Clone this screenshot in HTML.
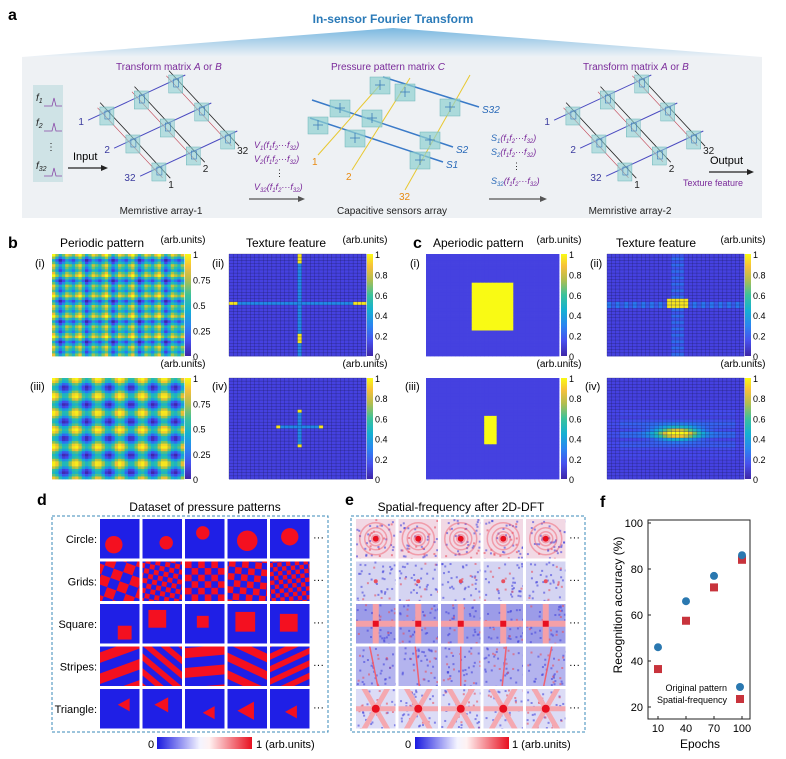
<!DOCTYPE html>
<html><head><meta charset="utf-8"><style>
body{margin:0;background:#fff;}
svg{display:block;font-family:"Liberation Sans",sans-serif;}
</style></head><body>
<svg id="fig" width="786" height="759" viewBox="0 0 786 759" xmlns="http://www.w3.org/2000/svg">
<defs>
<linearGradient id="tri" x1="0" y1="0" x2="0" y2="1"><stop offset="0" stop-color="#7ab8e0"/><stop offset="1" stop-color="#eef2f6"/></linearGradient>
<linearGradient id="bwr" x1="0" y1="0" x2="1" y2="0"><stop offset="0" stop-color="#1a1ae0"/><stop offset="0.45" stop-color="#f4f4ff"/><stop offset="0.55" stop-color="#fff2f2"/><stop offset="1" stop-color="#e81020"/></linearGradient>
<linearGradient id="parula" x1="0" y1="1" x2="0" y2="0">
<stop offset="0" stop-color="#3e26a8"/><stop offset="0.15" stop-color="#4750ee"/><stop offset="0.3" stop-color="#2a85f0"/><stop offset="0.45" stop-color="#14b0d2"/><stop offset="0.6" stop-color="#3cc29a"/><stop offset="0.75" stop-color="#b4bd4e"/><stop offset="0.88" stop-color="#f6c03a"/><stop offset="1" stop-color="#f9fa14"/></linearGradient>
</defs>

<!-- Panel a -->
<g>
<text x="8" y="20" font-size="16" font-weight="bold">a</text>
<text x="393" y="23" font-size="12" font-weight="bold" fill="#2a7ab8" text-anchor="middle">In-sensor Fourier Transform</text>
<polygon points="393,28 22,57 762,57" fill="url(#tri)"/>
<rect x="22" y="57" width="740" height="161" fill="#eef1f4"/>
<rect x="33" y="85" width="30" height="97" fill="#cfe3e6"/>
<g font-size="10" font-style="italic" fill="#222">
<text x="36" y="101">f<tspan font-size="7" dy="2">1</tspan></text>
<text x="36" y="126">f<tspan font-size="7" dy="2">2</tspan></text>
<text x="46" y="150" font-style="normal">⋮</text>
<text x="36" y="169">f<tspan font-size="7" dy="2">32</tspan></text>
</g>
<g stroke="#8a4aa8" fill="none" stroke-width="0.8">
<path d="M44 106 h8 l2 -8 l2 8 h6"/><path d="M44 131 h8 l2 -8 l2 8 h6"/><path d="M44 176 h8 l2 -8 l2 8 h6"/>
</g>
<text x="73" y="160" font-size="11">Input</text>
<line x1="68" y1="168" x2="104" y2="168" stroke="#222" stroke-width="1.2"/><polygon points="108,168 101,165 101,171" fill="#222"/>
<g id="arr1"></g>
<g id="arr2"></g>
<g id="cap"></g>
<g font-size="10" fill="#7a2a9a">
<text x="116" y="70">Transform matrix <tspan font-style="italic">A</tspan> or <tspan font-style="italic">B</tspan></text>
<text x="331" y="70">Pressure pattern matrix <tspan font-style="italic">C</tspan></text>
<text x="583" y="70">Transform matrix <tspan font-style="italic">A</tspan> or <tspan font-style="italic">B</tspan></text>
</g>
<g font-size="10" fill="#222" text-anchor="middle">
<text x="161" y="214">Memristive array-1</text>
<text x="392" y="214">Capacitive sensors array</text>
<text x="630" y="214">Memristive array-2</text>
</g>
<g font-size="9" fill="#7a2a9a" font-style="italic">
<text x="254" y="148">V<tspan font-size="6" dy="2">1</tspan><tspan dy="-2">(f</tspan><tspan font-size="6" dy="2">1</tspan><tspan dy="-2">f</tspan><tspan font-size="6" dy="2">2</tspan><tspan dy="-2">···f</tspan><tspan font-size="6" dy="2">32</tspan><tspan dy="-2">)</tspan></text>
<text x="254" y="162">V<tspan font-size="6" dy="2">2</tspan><tspan dy="-2">(f</tspan><tspan font-size="6" dy="2">1</tspan><tspan dy="-2">f</tspan><tspan font-size="6" dy="2">2</tspan><tspan dy="-2">···f</tspan><tspan font-size="6" dy="2">32</tspan><tspan dy="-2">)</tspan></text>
<text x="275" y="176" font-style="normal" fill="#222">⋮</text>
<text x="254" y="190">V<tspan font-size="6" dy="2">32</tspan><tspan dy="-2">(f</tspan><tspan font-size="6" dy="2">1</tspan><tspan dy="-2">f</tspan><tspan font-size="6" dy="2">2</tspan><tspan dy="-2">···f</tspan><tspan font-size="6" dy="2">32</tspan><tspan dy="-2">)</tspan></text>
</g>
<g font-size="9" fill="#2a6ab8" font-style="italic">
<text x="491" y="141">S<tspan font-size="6" dy="2">1</tspan><tspan dy="-2" fill="#7a2a9a">(f</tspan><tspan font-size="6" dy="2" fill="#7a2a9a">1</tspan><tspan dy="-2" fill="#7a2a9a">f</tspan><tspan font-size="6" dy="2" fill="#7a2a9a">2</tspan><tspan dy="-2" fill="#7a2a9a">···f</tspan><tspan font-size="6" dy="2" fill="#7a2a9a">32</tspan><tspan dy="-2" fill="#7a2a9a">)</tspan></text>
<text x="491" y="155">S<tspan font-size="6" dy="2">2</tspan><tspan dy="-2" fill="#7a2a9a">(f</tspan><tspan font-size="6" dy="2" fill="#7a2a9a">1</tspan><tspan dy="-2" fill="#7a2a9a">f</tspan><tspan font-size="6" dy="2" fill="#7a2a9a">2</tspan><tspan dy="-2" fill="#7a2a9a">···f</tspan><tspan font-size="6" dy="2" fill="#7a2a9a">32</tspan><tspan dy="-2" fill="#7a2a9a">)</tspan></text>
<text x="512" y="169" font-style="normal" fill="#222">⋮</text>
<text x="491" y="184">S<tspan font-size="6" dy="2">32</tspan><tspan dy="-2" fill="#7a2a9a">(f</tspan><tspan font-size="6" dy="2" fill="#7a2a9a">1</tspan><tspan dy="-2" fill="#7a2a9a">f</tspan><tspan font-size="6" dy="2" fill="#7a2a9a">2</tspan><tspan dy="-2" fill="#7a2a9a">···f</tspan><tspan font-size="6" dy="2" fill="#7a2a9a">32</tspan><tspan dy="-2" fill="#7a2a9a">)</tspan></text>
</g>
<line x1="249" y1="199" x2="300" y2="199" stroke="#555" stroke-width="1.2"/><polygon points="305,199 298,196 298,202" fill="#555"/>
<line x1="489" y1="199" x2="542" y2="199" stroke="#555" stroke-width="1.2"/><polygon points="547,199 540,196 540,202" fill="#555"/>
<text x="710" y="164" font-size="11">Output</text>
<line x1="709" y1="172" x2="749" y2="172" stroke="#222" stroke-width="1.2"/><polygon points="754,172 747,169 747,175" fill="#222"/>
<text x="683" y="186" font-size="9" fill="#7a2a9a">Texture feature</text>
</g>

<!-- Panels b, c -->
<g id="bc">
<text x="8" y="248" font-size="16" font-weight="bold">b</text>
<text x="60" y="247" font-size="12">Periodic pattern</text>
<text x="246" y="247" font-size="12">Texture feature</text>
<text x="413" y="248" font-size="16" font-weight="bold">c</text>
<text x="433" y="247" font-size="12">Aperiodic pattern</text>
<text x="616" y="247" font-size="12">Texture feature</text>
</g>

<!-- Panel d -->
<g id="pd">
<text x="37" y="505" font-size="16" font-weight="bold">d</text>
<text x="205" y="511" font-size="12" text-anchor="middle">Dataset of pressure patterns</text>
<rect x="52" y="516" width="276" height="216" fill="none" stroke="#3a8ab8" stroke-dasharray="3,2"/>
<rect x="157" y="737" width="95" height="12" fill="url(#bwr)"/>
<text x="148" y="748" font-size="11">0</text><text x="256" y="748" font-size="11">1  (arb.units)</text>
</g>
<!-- Panel e -->
<g id="pe">
<text x="345" y="505" font-size="16" font-weight="bold">e</text>
<text x="461" y="511" font-size="12" text-anchor="middle">Spatial-frequency after 2D-DFT</text>
<rect x="351" y="516" width="234" height="216" fill="none" stroke="#3a8ab8" stroke-dasharray="3,2"/>
<rect x="415" y="737" width="94" height="12" fill="url(#bwr)"/>
<text x="405" y="748" font-size="11">0</text><text x="512" y="748" font-size="11">1  (arb.units)</text>
</g>

<!-- Panel f -->
<g id="pf">
<text x="600" y="507" font-size="16" font-weight="bold">f</text>
<rect x="648" y="520" width="102" height="199" fill="none" stroke="#222" stroke-width="1"/>
<text transform="translate(622,605) rotate(-90)" font-size="12" text-anchor="middle">Recognition accuracy (%)</text>
<text x="700" y="748" font-size="12" text-anchor="middle">Epochs</text>
<g id="fticks"></g><g id="fmarks"></g>
<text x="727" y="691" font-size="9" text-anchor="end">Original pattern</text>
<circle cx="740" cy="687" r="4" fill="#2a78b0"/>
<text x="727" y="703" font-size="9" text-anchor="end">Spatial-frequency</text>
<rect x="736" y="695" width="8" height="8" fill="#c8333c"/>
</g>
</svg>
<script>
// Panel f data
const epochs = [10, 40, 70, 100];
const originalAcc = [46, 66, 77, 86];
const spatialAcc = [36.5, 57.5, 72, 84];
const yTicks = [20, 40, 60, 80, 100];

const NS = "http://www.w3.org/2000/svg";
function mk(tag, attrs, parent){const e=document.createElementNS(NS,tag);for(const k in attrs)e.setAttribute(k,attrs[k]);if(parent)parent.appendChild(e);return e;}

// f axes
const fx = v => 658 + (v - 10) / 90 * 84;
const fy = v => 707 - (v - 20) / 80 * 184;
const ft = document.getElementById('fticks');
yTicks.forEach(t=>{
  mk('line',{x1:648,x2:651,y1:fy(t),y2:fy(t),stroke:'#222'},ft);
  const tx=mk('text',{x:643,y:fy(t)+4,'font-size':11,'text-anchor':'end'},ft);tx.textContent=t;
  
  
});
epochs.forEach(t=>{
  mk('line',{x1:fx(t),x2:fx(t),y1:719,y2:716,stroke:'#222'},ft);
  const tx=mk('text',{x:fx(t),y:732,'font-size':11,'text-anchor':'middle'},ft);tx.textContent=t;
  
  
});
const fm=document.getElementById('fmarks');
spatialAcc.forEach((v,i)=>{
  const r=mk('rect',{x:fx(epochs[i])-4,y:fy(v)-4,width:8,height:8,fill:'#c8333c'},fm);
  
  
});
originalAcc.forEach((v,i)=>{
  const c=mk('circle',{cx:fx(epochs[i]),cy:fy(v),r:4,fill:'#2a78b0'},fm);
  
  
});

// parula
const PS=[[0,[62,38,168]],[0.12,[70,70,235]],[0.25,[40,120,240]],[0.4,[20,170,215]],[0.55,[40,190,170]],[0.7,[140,195,80]],[0.85,[240,190,50]],[1,[249,250,20]]];
function parula(v){v=Math.max(0,Math.min(1,v));for(let i=1;i<PS.length;i++){if(v<=PS[i][0]){const a=PS[i-1],b=PS[i];const t=(v-a[0])/(b[0]-a[0]);return 'rgb('+a[1].map((c,k)=>Math.round(c+(b[1][k]-c)*t)).join(',')+')';}}return 'rgb(249,250,20)';}

const bc=document.getElementById('bc');
function heat(x,y,w,h,n,f,grid,name){
  const g=mk('g',{},bc);
  
  
  const cw=w/n,ch=h/n;
  for(let j=0;j<n;j++)for(let i=0;i<n;i++){
    mk('rect',{x:x+i*cw,y:y+j*ch,width:cw+0.4,height:ch+0.4,fill:parula(f(i,j))},g);
  }
  if(grid){for(let k=0;k<=n;k++){mk('line',{x1:x+k*cw,x2:x+k*cw,y1:y,y2:y+h,stroke:'#1c1c60','stroke-width':0.4,'stroke-opacity':0.7},g);mk('line',{y1:y+k*ch,y2:y+k*ch,x1:x,x2:x+w,stroke:'#1c1c60','stroke-width':0.4,'stroke-opacity':0.7},g);}}
}
function cbar(x,y,h,ticks,name){
  const r=mk('rect',{x:x,y:y,width:6,height:h,fill:'url(#parula)'},bc);
  
  
  ticks.forEach(t=>{const tx=mk('text',{x:x+8,y:y+h-t*h+4,'font-size':9},bc);tx.textContent=t;});
  const u=mk('text',{x:x-2,y:y-11,'font-size':10,'text-anchor':'middle'},bc);u.textContent='(arb.units)';
}
function lbl(x,y,s){const t=mk('text',{x:x,y:y,'font-size':11},bc);t.textContent=s;}
const bg=0.1;
// b(i)
heat(52,254,132,102,40,(i,j)=>{const a=Math.cos(i*Math.PI*0.5),b=Math.cos(j*Math.PI*0.5);const c=Math.cos(i*Math.PI*0.25+1),d=Math.cos(j*Math.PI*0.25+1);return 0.5+0.2*(a+b)+0.1*(c+d);},false,'periodic-pattern-i');
cbar(185,254,102,[0,0.25,0.5,0.75,1],'colorbar-b-i');lbl(35,267,'(i)');
// b(iii)
heat(52,378,132,101,40,(i,j)=>0.5+0.25*(Math.cos(i*2*Math.PI/6.7)+Math.cos(j*2*Math.PI/6.7)),false,'periodic-pattern-iii');
cbar(185,378,101,[0,0.25,0.5,0.75,1],'colorbar-b-iii');lbl(30,390,'(iii)');
// b(ii)
heat(229,254,137,102,32,(i,j)=>{if(i===16&&(j<=2||j>=25&&j<=27))return 0.95; if(j===15&&(i<=1||i>=29))return 0.95; if(i===16||j===15)return 0.3; return bg;},true,'texture-feature-ii');
cbar(367,254,102,[0,0.2,0.4,0.6,0.8,1],'colorbar-b-ii');lbl(212,267,'(ii)');
// b(iv)
heat(229,378,137,101,32,(i,j)=>{if((i===16&&(j===10||j===21))||(j===15&&(i===11||i===21)))return 0.95; if((i===16&&j>10&&j<21)||(j===15&&i>11&&i<21))return 0.3; return bg;},true,'texture-feature-iv');
cbar(367,378,101,[0,0.2,0.4,0.6,0.8,1],'colorbar-b-iv');lbl(212,390,'(iv)');
// c(i)
heat(426,254,133,102,32,(i,j)=>(i>=11&&i<=20&&j>=9&&j<=23)?1:bg,false,'aperiodic-pattern-i');
cbar(561,254,102,[0,0.2,0.4,0.6,0.8,1],'colorbar-c-i');lbl(410,267,'(i)');
// c(iii)
heat(426,378,133,101,32,(i,j)=>(i>=14&&i<=16&&j>=12&&j<=20)?1:bg,false,'aperiodic-pattern-iii');
cbar(561,378,101,[0,0.2,0.4,0.6,0.8,1],'colorbar-c-iii');lbl(405,390,'(iii)');
// c(ii)
heat(607,254,137,102,32,(i,j)=>{const di=i-16,dj=j-15;if(Math.abs(di)<=2&&Math.abs(dj)<=1)return 0.95;let v=bg;if(dj===0||dj===1)v+=0.15*((Math.abs(di)%2===0)?1:0.5);if(Math.abs(di)<=1)v+=0.12*((Math.abs(dj)%2===0)?1:0.5);return v;},true,'texture-feature-c-ii');
cbar(745,254,102,[0,0.2,0.4,0.6,0.8,1],'colorbar-c-ii');lbl(590,267,'(ii)');
// c(iv)
heat(607,378,137,101,32,(i,j)=>{const di=(i-16)/5.5,dj=(j-17)/2.2;const r=Math.sqrt(di*di+dj*dj);let v=bg+0.9*Math.exp(-r*r*1.3);v+=0.12*Math.exp(-Math.pow((j-17)/6,2))*Math.abs(Math.cos(j*0.9))*(Math.abs(i-16)<14?1:0.4);return v;},true,'texture-feature-c-iv');
cbar(745,378,101,[0,0.2,0.4,0.6,0.8,1],'colorbar-c-iv');lbl(585,390,'(iv)');

// Panel d tiles
const BLUE='#1f1fe6',RED='#f41020';
const colX=[100,142.5,185,227.5,270],rowY=[519,561.5,604,646.5,689],TS=39.5;
const rowNames=['Circle:','Grids:','Square:','Stripes:','Triangle:'];
const pd=document.getElementById('pd');
let cid=0;
function tile(parent,x,y,drawer,name){
  const id='c'+(cid++);
  const cp=mk('clipPath',{id:id},parent);mk('rect',{x:x,y:y,width:TS,height:TS},cp);
  const g=mk('g',{'clip-path':'url(#'+id+')'},parent);
  
  
  drawer(g,x,y);
}
const circ=[[0.35,0.65,0.22],[0.6,0.6,0.17],[0.45,0.35,0.17],[0.5,0.55,0.26],[0.5,0.45,0.22]];
const sq=[[0.45,0.55,0.35],[0.15,0.15,0.45],[0.3,0.3,0.3],[0.2,0.2,0.5],[0.25,0.25,0.45]];
const gridN=[[4,20],[8,10],[6,0],[6,5],[9,-5]];
const stripeN=[[4,-20],[7,40],[4,-5],[5,25],[7,-25]];
const triS=[[0.45,0.4,0.3],[0.3,0.4,0.35],[0.45,0.6,0.3],[0.25,0.55,0.42],[0.38,0.58,0.3]];
rowNames.forEach((n,r)=>{
  const t=mk('text',{x:97,y:rowY[r]+TS/2+4,'font-size':11,'text-anchor':'end'},pd);t.textContent=n;
  
  
  const d=mk('text',{x:313,y:rowY[r]+TS/2+2,'font-size':11},pd);d.textContent='···';
  colX.forEach((x,c)=>{
    const y=rowY[r];
    tile(pd,x,y,(g,x,y)=>{
      mk('rect',{x:x,y:y,width:TS,height:TS,fill:BLUE},g);
      if(r===0){const a=circ[c];mk('circle',{cx:x+a[0]*TS,cy:y+a[1]*TS,r:a[2]*TS,fill:RED},g);}
      if(r===1){const [k,ang]=gridN[c];const s=TS/k;const gg=mk('g',{transform:`rotate(${ang} ${x+TS/2} ${y+TS/2})`},g);for(let a=-3;a<k+3;a++)for(let b=-3;b<k+3;b++)if((a+b)%2===0)mk('rect',{x:x+a*s,y:y+b*s,width:s,height:s,fill:RED},gg);}
      if(r===2){const a=sq[c];mk('rect',{x:x+a[0]*TS,y:y+a[1]*TS,width:a[2]*TS,height:a[2]*TS,fill:RED},g);}
      if(r===3){const [k,ang]=stripeN[c];const s=TS/k;const gg=mk('g',{transform:`rotate(${ang} ${x+TS/2} ${y+TS/2})`},g);for(let a=-4;a<k+4;a++)if(a%2===0)mk('rect',{x:x-TS,y:y+a*s,width:TS*3,height:s,fill:RED},gg);}
      if(r===4){const a=triS[c];const cx=x+a[0]*TS,cy=y+a[1]*TS,s=a[2]*TS;mk('polygon',{points:`${cx},${cy} ${cx+s},${cy-s*0.55} ${cx+s},${cy+s*0.55}`,fill:RED},g);}
    },'pattern-tile');
  });
});

// Panel e tiles
const pe=document.getElementById('pe');
const eX=[356,398.5,441,483.5,526];
const eBase=['#f2d8e4','#d4d4f2','#9c9ce8','#b4b4ee','#dcdcf6'];
let seed=7;function rnd(){seed=(seed*16807)%2147483647;return seed/2147483647;}
eBase.forEach((base,r)=>{
  const d=mk('text',{x:569,y:rowY[r]+TS/2+2,'font-size':11},pe);d.textContent='···';
  eX.forEach((x,c)=>{
    const y=rowY[r];
    tile(pe,x,y,(g,x,y)=>{
      mk('rect',{x:x,y:y,width:TS,height:TS,fill:base},g);
      const cx=x+TS/2,cy=y+TS/2;
      for(let k=0;k<40;k++){mk('rect',{x:x+rnd()*TS,y:y+rnd()*TS,width:2,height:2,fill:rnd()<0.75?'#4646dc':'#e85060','fill-opacity':0.6},g);}
      if(r===0){[16,11,7,4].forEach((rr,k)=>mk('circle',{cx:cx,cy:cy,r:rr,fill:'none',stroke:'#f06070','stroke-width':1.5,'stroke-opacity':0.5},g));mk('circle',{cx:cx,cy:cy,r:3,fill:'#e81020'},g);}
      if(r===2){mk('rect',{x:cx-3,y:y,width:6,height:TS,fill:'#f4a0a8'},g);mk('rect',{x:x,y:cy-3,width:TS,height:6,fill:'#f4a0a8'},g);mk('rect',{x:cx-3,y:cy-3,width:6,height:6,fill:'#e81020'},g);}
      if(r===3){mk('line',{x1:cx-6+c*3,y1:y,x2:cx+2-c,y2:y+TS,stroke:'#f06070','stroke-width':1.5},g);}
      if(r===4){[0,60,120].forEach(a=>mk('line',{x1:cx-28*Math.cos(a*Math.PI/180),y1:cy-28*Math.sin(a*Math.PI/180),x2:cx+28*Math.cos(a*Math.PI/180),y2:cy+28*Math.sin(a*Math.PI/180),stroke:'#f4a8b0','stroke-width':5},g));mk('circle',{cx:cx,cy:cy,r:4,fill:'#e81020'},g);}
      if(r===1){mk('circle',{cx:cx,cy:cy,r:2,fill:'#e85060'},g);}
    },'frequency-tile');
  });
});

// Panel a arrays
function memArray(gid,dx){
  const g=document.getElementById(gid);
  const O=[95+dx,117],u=[86,-40],v=[52,56];
  const P=(a,b)=>[O[0]+a*u[0]+b*v[0],O[1]+a*u[1]+b*v[1]];
  [0,0.5,1].forEach((b,k)=>{const p=P(-0.08,b),q=P(1.05,b);mk('line',{x1:p[0],y1:p[1],x2:q[0],y2:q[1],stroke:'#4a4ac0','stroke-width':1},g);});
  [0.15,0.55,0.95].forEach((a,k)=>{const p=P(a,-0.15),q=P(a,1.2);mk('line',{x1:p[0],y1:p[1],x2:q[0],y2:q[1],stroke:'#222','stroke-width':0.8},g);const p2=P(a-0.06,-0.1),q2=P(a-0.06,1.15);mk('line',{x1:p2[0],y1:p2[1],x2:q2[0],y2:q2[1],stroke:'#c04050','stroke-width':0.6},g);});
  [0,0.5,1].forEach(b=>[0.15,0.55,0.95].forEach(a=>{const p=P(a,b);mk('rect',{x:p[0]-8,y:p[1]-4,width:14,height:18,fill:'#8fd0d0','fill-opacity':0.6,stroke:'#6ab4b8','stroke-width':0.5},g);mk('rect',{x:p[0]-3,y:p[1],width:5,height:8,fill:'none',stroke:'#3a7ab8','stroke-width':0.6},g);}));
  const lab=(x,y,s,c)=>{const t=mk('text',{x:x,y:y,'font-size':10,fill:c},g);t.textContent=s;};
  lab(P(-0.1,0)[0]-8,P(-0.1,0)[1]+4,'1','#3b3b9e');lab(P(-0.1,0.5)[0]-8,P(-0.1,0.5)[1]+4,'2','#3b3b9e');lab(P(-0.1,1)[0]-14,P(-0.1,1)[1]+4,'32','#3b3b9e');
  lab(P(0.15,1.2)[0]-2,P(0.15,1.2)[1]+10,'1','#222');lab(P(0.55,1.2)[0]-2,P(0.55,1.2)[1]+10,'2','#222');lab(P(0.95,1.2)[0]-2,P(0.95,1.2)[1]+8,'32','#222');
}
memArray('arr1',0);memArray('arr2',466);
(function(){
  const g=document.getElementById('cap');
  const rows=[[[383,77],[479,107],'S32'],[[312,100],[453,147],'S2'],[[310,118],[443,162],'S1']];
  rows.forEach(r=>{mk('line',{x1:r[0][0],y1:r[0][1],x2:r[1][0],y2:r[1][1],stroke:'#3a7ac8','stroke-width':1.5},g);
    const t=mk('text',{x:r[1][0]+3,y:r[1][1]+6,'font-size':10,fill:'#2a6ab8','font-style':'italic'},g);t.textContent=r[2];});
  const cols=[[350,125,318,155,'1'],[380,118,352,170,'2'],[440,115,405,190,'32']];
  cols.forEach(c=>{mk('line',{x1:c[0]+30,y1:c[1]-40,x2:c[2],y2:c[3],stroke:'#e8c830','stroke-width':1},g);const t=mk('text',{x:c[2]-6,y:c[3]+10,'font-size':10,fill:'#e88a10'},g);t.textContent=c[4];});
  [[380,85],[405,92],[450,107],[340,108],[372,118],[430,140],[318,125],[355,138],[420,160]].forEach(p=>{mk('rect',{x:p[0]-10,y:p[1]-8,width:20,height:17,fill:'#8fd0d0','fill-opacity':0.7,stroke:'#6ab4b8','stroke-width':0.5},g);mk('path',{d:`M${p[0]-5} ${p[1]} h10 M${p[0]} ${p[1]-5} v10`,stroke:'#3a7ab8','stroke-width':0.8},g);});
})();
</script>
</body></html>
